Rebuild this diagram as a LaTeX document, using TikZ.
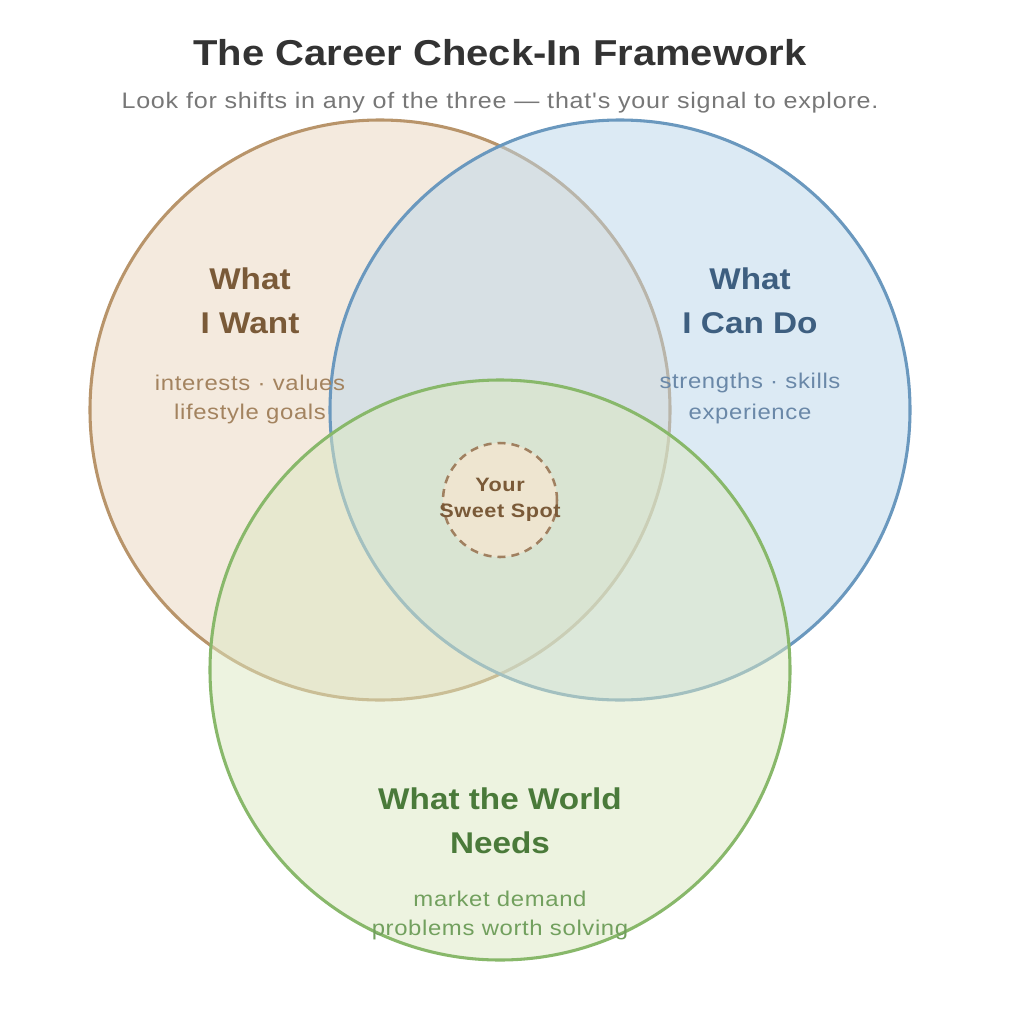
\documentclass[tikz,border=0pt]{standalone}
\usepackage{fontspec}
\setmainfont{Liberation Sans}
\newfontfamily\widefont[FakeStretch=1.11]{Liberation Sans}
\newfontfamily\widels[FakeStretch=1.12,LetterSpace=3]{Liberation Sans}
\newfontfamily\widelsb[FakeStretch=1.12,LetterSpace=3.5]{Liberation Sans}
\definecolor{wantS}{HTML}{B8946A}
\definecolor{wantF}{HTML}{EBD7BF}
\definecolor{canS}{HTML}{6A98BE}
\definecolor{canF}{HTML}{BBD7EB}
\definecolor{needS}{HTML}{88B86A}
\definecolor{needF}{HTML}{DCE8C2}
\definecolor{wantT}{HTML}{7A5A38}
\definecolor{wantL}{HTML}{A3835F}
\definecolor{canT}{HTML}{3E5F80}
\definecolor{canL}{HTML}{6A88A8}
\definecolor{needT}{HTML}{4A7A3A}
\definecolor{needL}{HTML}{72A05E}
\definecolor{titleC}{HTML}{333333}
\definecolor{subC}{HTML}{777777}
\definecolor{spotF}{HTML}{EEE5D0}
\definecolor{spotS}{HTML}{A08060}
\tikzset{
  venn/.style={circle, minimum size=580*0.75pt, inner sep=0pt, line width=2.3pt, fill opacity=0.5, draw opacity=1},
  head/.style={font=\widefont\fontsize{22.5}{26}\selectfont\bfseries},
  sub/.style={font=\widels\fontsize{16}{19}\selectfont},
}
\begin{document}
\begin{tikzpicture}[x=0.75pt,y=-0.75pt]
\useasboundingbox[fill=white] (0,0) rectangle (1028,1014);
\node[venn, draw=wantS, fill=wantF] (want) at (380,410) {};
\node[venn, draw=canS, fill=canF] (can) at (620,410) {};
\node[venn, draw=needS, fill=needF] (need) at (500,670) {};
\node[circle, minimum size=114*0.75pt, inner sep=0pt, draw=spotS, fill=spotF, line width=1.9pt, dash pattern=on 6pt off 4.5pt] (spot) at (500,500) {};

\node[font=\widefont\fontsize{27}{31}\selectfont\bfseries, text=titleC] (title) at (500,53) {The Career Check-In Framework};
\node[font=\widelsb\fontsize{16.8}{19}\selectfont, text=subC] (subtitle) at (500,103) {Look for shifts in any of the three — that's your signal to explore.};

\node[head, text=wantT] (w1) at (250,279) {What};
\node[head, text=wantT] (w2) at (250,323) {I Want};
\node[sub, text=wantL] (w3) at (250,383) {interests · values};
\node[sub, text=wantL] (w4) at (250,414) {lifestyle goals};

\node[head, text=canT] (c1) at (750,279) {What};
\node[head, text=canT] (c2) at (750,323) {I Can Do};
\node[sub, text=canL] (c3) at (750,383) {strengths · skills};
\node[sub, text=canL] (c4) at (750,414) {experience};

\node[head, text=needT] (n1) at (500,799) {What the World};
\node[head, text=needT] (n2) at (500,843) {Needs};
\node[sub, text=needL] (n3) at (500,899) {market demand};
\node[sub, text=needL] (n4) at (500,930) {problems worth solving};

\node[font=\widels\fontsize{14.5}{17}\selectfont\bfseries, text=wantT] (s1) at (500,485) {Your};
\node[font=\widels\fontsize{14.5}{17}\selectfont\bfseries, text=wantT] (s2) at (500,513) {Sweet Spot};
\end{tikzpicture}
\end{document}
